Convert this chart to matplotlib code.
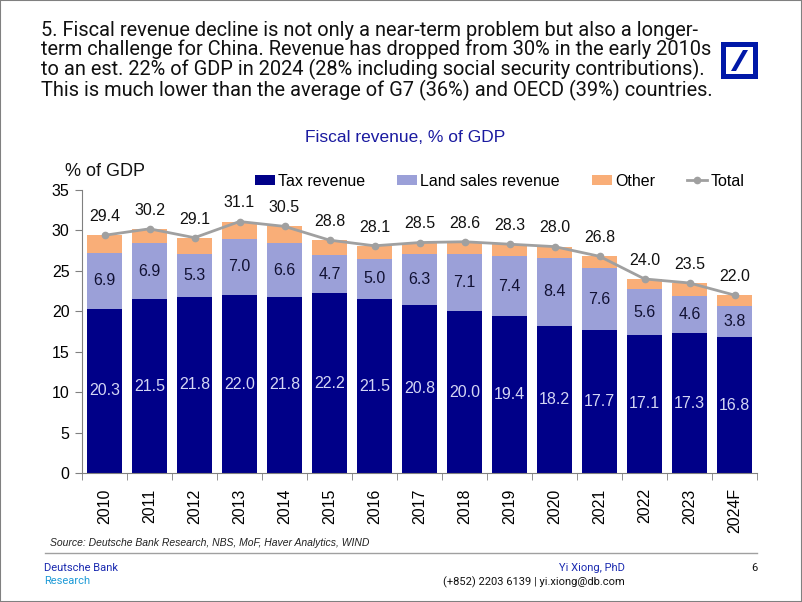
import matplotlib
matplotlib.use("Agg")
import matplotlib.pyplot as plt
from matplotlib.patches import Rectangle, Polygon
import numpy as np

years = ["2010", "2011", "2012", "2013", "2014", "2015", "2016", "2017",
         "2018", "2019", "2020", "2021", "2022", "2023", "2024F"]
tax = [20.3, 21.5, 21.8, 22.0, 21.8, 22.2, 21.5, 20.8, 20.0, 19.4, 18.2, 17.7, 17.1, 17.3, 16.8]
land = [6.9, 6.9, 5.3, 7.0, 6.6, 4.7, 5.0, 6.3, 7.1, 7.4, 8.4, 7.6, 5.6, 4.6, 3.8]
total = [29.4, 30.2, 29.1, 31.1, 30.5, 28.8, 28.1, 28.5, 28.6, 28.3, 28.0, 26.8, 24.0, 23.5, 22.0]
other = [round(t - a - b, 1) for t, a, b in zip(total, tax, land)]

NAVY = "#000088"
LAV = "#9BA0D8"
ORANGE = "#F9AE78"
GRAY = "#A0A0A0"
DBBLUE = "#0018A8"

FONT = ["Liberation Sans", "DejaVu Sans"]
plt.rcParams["font.family"] = FONT

W, H = 802, 602
fig = plt.figure(figsize=(W / 100, H / 100), dpi=100)

def fx(px):
    return px / W

def fy(py):
    return 1 - py / H

# page border
fig.add_artist(Rectangle((0, 0), 1, 1, transform=fig.transFigure, fill=False,
                         edgecolor="#808080", linewidth=1.5))

# header
header = ("5. Fiscal revenue decline is not only a near-term problem but also a longer-\n"
          "term challenge for China. Revenue has dropped from 30% in the early 2010s\n"
          "to an est. 22% of GDP in 2024 (28% including social security contributions).\n"
          "This is much lower than the average of G7 (36%) and OECD (39%) countries.")
fig.text(fx(41), fy(21), header, ha="left", va="top", fontsize=14.4,
         family=["Roboto", "DejaVu Sans"], color="#111111", linespacing=0.99)

# logo
lx0, ly0, lsz = 721, 42, 37
fig.add_artist(Rectangle((fx(lx0), fy(ly0 + lsz)), lsz / W, lsz / H,
                         transform=fig.transFigure, facecolor=DBBLUE, edgecolor="none"))
b = 5
fig.add_artist(Rectangle((fx(lx0 + b), fy(ly0 + lsz - b)), (lsz - 2 * b) / W, (lsz - 2 * b) / H,
                         transform=fig.transFigure, facecolor="white", edgecolor="none"))
slash = [(lx0 + 10, ly0 + 29), (lx0 + 15, ly0 + 29), (lx0 + 27, ly0 + 8), (lx0 + 22, ly0 + 8)]
fig.add_artist(Polygon([(fx(x), fy(y)) for x, y in slash], closed=True,
                       transform=fig.transFigure, facecolor=DBBLUE, edgecolor="none"))

# chart title
fig.text(fx(405), fy(137), "Fiscal revenue, % of GDP", ha="center", va="center",
         fontsize=12.5, color="#1A1AA0")
fig.text(fx(65), fy(171), "% of GDP", ha="left", va="center", fontsize=13, color="#111111")

# axes
ax_left, ax_right = 82, 757
ax_top, ax_bot = 190, 473
ax = fig.add_axes([fx(ax_left), fy(ax_bot), (ax_right - ax_left) / W, (ax_bot - ax_top) / H])

x = np.arange(len(years))
bw = 0.78
b1 = ax.bar(x, tax, bw, color=NAVY, label="Tax revenue", zorder=2)
b2 = ax.bar(x, land, bw, bottom=tax, color=LAV, label="Land sales revenue", zorder=2)
bottom2 = [a + c for a, c in zip(tax, land)]
b3 = ax.bar(x, other, bw, bottom=bottom2, color=ORANGE, label="Other", zorder=2)
ln, = ax.plot(x, total, color=GRAY, linewidth=2, marker="o", markersize=4.5,
              label="Total", zorder=3)

for i in range(len(years)):
    ax.text(x[i], tax[i] / 2, f"{tax[i]:.1f}", ha="center", va="center",
            fontsize=11.5, color="#D4D6F4", zorder=4)
    ax.text(x[i], tax[i] + land[i] / 2, f"{land[i]:.1f}", ha="center", va="center",
            fontsize=11.5, color="#111133", zorder=4)
    ax.annotate(f"{total[i]:.1f}", (x[i], total[i]), xytext=(0, 8),
                textcoords="offset points", ha="center", va="bottom",
                fontsize=11.5, color="#111111", zorder=4)

ax.set_xlim(-0.5, len(years) - 0.5)
ax.set_ylim(0, 35)
ax.set_yticks(range(0, 36, 5))
ax.set_xticks(x)
ax.set_xticklabels(years, rotation=90, fontsize=11.5)
ax.tick_params(axis="x", length=0, pad=11)
ax.set_xticks(np.arange(-0.5, len(years), 1), minor=True)
ax.tick_params(axis="x", which="minor", length=5, direction="out", color="#808080")
ax.tick_params(axis="y", labelsize=11.5, length=5, color="#808080", pad=4)
for s in ["top", "right"]:
    ax.spines[s].set_visible(False)
ax.spines["left"].set_color("#808080")
ax.spines["bottom"].set_color("#808080")

leg = fig.legend(handles=[b1, b2, b3, ln], loc="center left",
                 bbox_to_anchor=(fx(255), fy(181)), ncol=4, frameon=False,
                 fontsize=11.5, handlelength=1.25, handleheight=0.6, handletextpad=0.2,
                 columnspacing=2.0, borderaxespad=0, borderpad=0)

# footer
fig.text(fx(50), fy(543), "Source: Deutsche Bank Research, NBS, MoF, Haver Analytics, WIND",
         ha="left", va="center", fontsize=7.5, style="italic", color="#222222")
fig.add_artist(plt.Line2D([fx(45), fx(757)], [fy(553), fy(553)], transform=fig.transFigure,
                          color="#A0A0A0", linewidth=1))
fig.text(fx(44), fy(568), "Deutsche Bank", ha="left", va="center", fontsize=8,
         family=["Roboto", "DejaVu Sans"], color="#1A2AB0")
fig.text(fx(44), fy(581), "Research", ha="left", va="center", fontsize=8,
         family=["Roboto", "DejaVu Sans"], color="#1E9BD7")
fig.text(fx(625), fy(568), "Yi Xiong, PhD", ha="right", va="center", fontsize=8,
         family=["Roboto", "DejaVu Sans"], color="#1A2AB0")
fig.text(fx(625), fy(582), "(+852) 2203 6139 | yi.xiong@db.com", ha="right", va="center",
         fontsize=8, family=["Roboto", "DejaVu Sans"], color="#111111")
fig.text(fx(757), fy(568), "6", ha="right", va="center", fontsize=8,
         family=["Roboto", "DejaVu Sans"], color="#111111")

fig.savefig("out.png", dpi=100)
